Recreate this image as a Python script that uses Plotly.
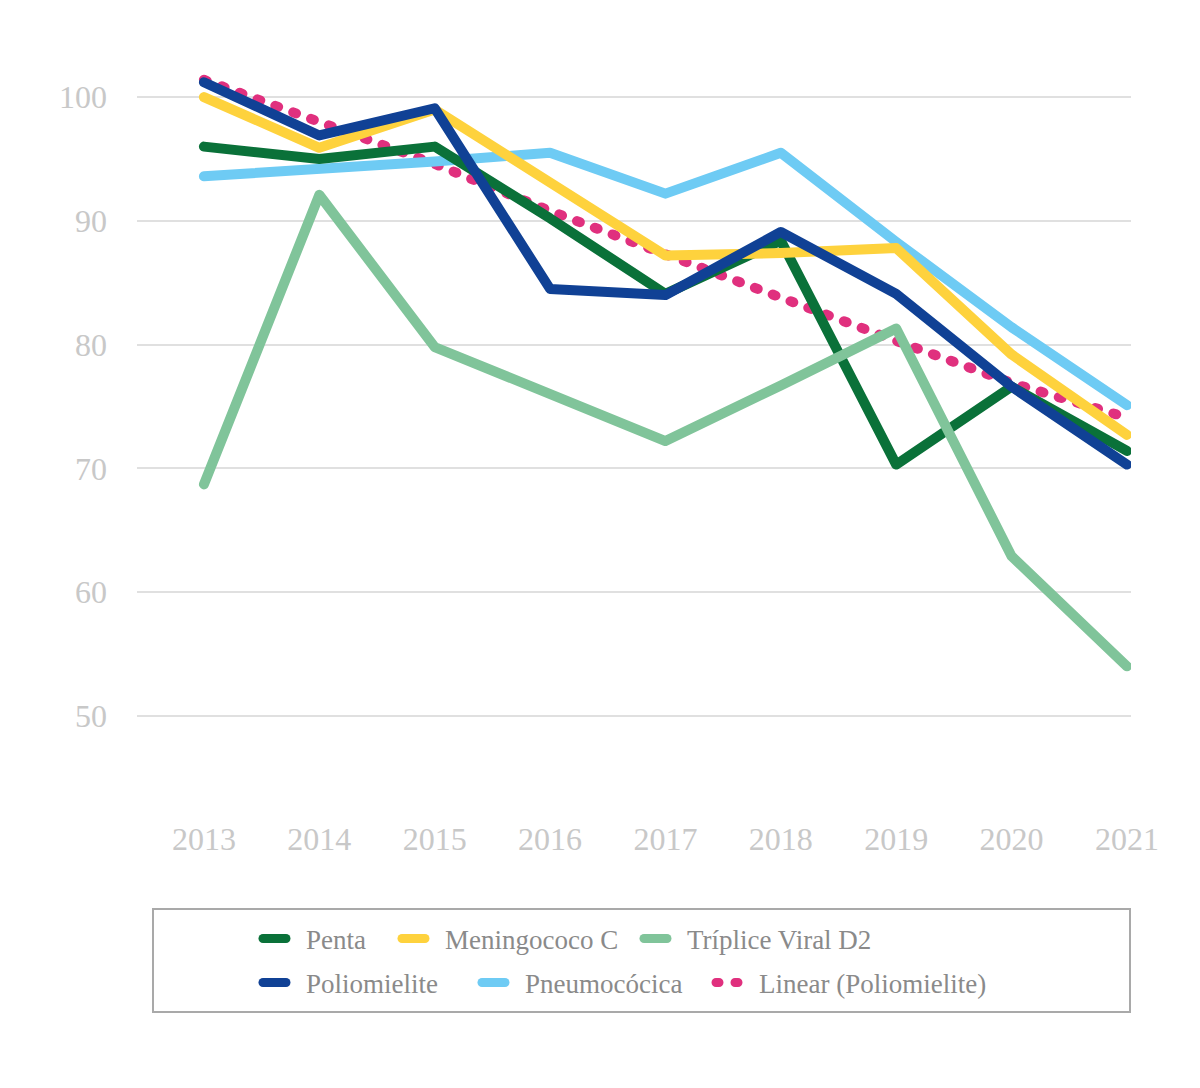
import plotly.graph_objects as go

FONT = "Liberation Serif, Times New Roman, serif"

years = [2013, 2014, 2015, 2016, 2017, 2018, 2019, 2020, 2021]

penta = [96.0, 95.0, 96.0, 90.2, 84.1, 88.4, 70.3, 76.6, 71.4]
meningococo_c = [100.0, 95.9, 99.0, 93.2, 87.2, 87.4, 87.8, 79.2, 72.7]
triplice_viral_d2 = [68.7, 92.1, 79.8, 76.1, 72.2, 76.7, 81.3, 62.9, 54.0]
poliomielite = [101.2, 96.9, 99.1, 84.5, 84.0, 89.1, 84.1, 76.6, 70.3]
pneumococica = [93.6, 94.1, 94.8, 95.5, 92.2, 95.5, 88.3, 81.4, 75.1]
linear_polio = [101.4, 97.9, 94.6, 90.8, 87.4, 83.8, 80.3, 76.9, 74.1]

y_ticks = [50, 60, 70, 80, 90, 100]

# drawing order (bottom -> top), with legend slot for each series
series = [
    ("Linear (Poliomielite)", linear_polio, "#e0307e", "3px,16px", "legend6"),
    ("Pneumocócica", pneumococica, "#6ecbf4", "solid", "legend5"),
    ("Penta", penta, "#0a7139", "solid", "legend"),
    ("Meningococo C", meningococo_c, "#fed23d", "solid", "legend2"),
    ("Tríplice Viral D2", triplice_viral_d2, "#80c49a", "solid", "legend3"),
    ("Poliomielite", poliomielite, "#104195", "solid", "legend4"),
]

fig = go.Figure()
for name, vals, color, dash, leg in series:
    fig.add_trace(go.Scatter(
        x=years,
        y=vals,
        mode="lines",
        name=name,
        legend=leg,
        line=dict(color=color, width=10, dash=dash),
        hoverinfo="x+y+name",
    ))

# the page adds an 8px body margin; layout below is in page pixels
PAGE = 8
L, R, T, B = 137 - PAGE, 1131 - PAGE, 60 - PAGE, 790 - PAGE
W, H = R - L, B - T


def px_x(px):
    return (px - PAGE - L) / W


def px_y(py):
    return (B - (py - PAGE)) / H


legend_font = dict(family=FONT, size=27, color="#8a8a8a")
# symbol start (page px) and row centre (page px) for each legend entry
legend_slots = {
    "legend": (258, 939),
    "legend2": (397, 939),
    "legend3": (639, 939),
    "legend4": (258, 983),
    "legend5": (477, 983),
    "legend6": (711, 983),
}
legends = {}
for key, (sx, sy) in legend_slots.items():
    legends[key] = dict(
        x=px_x(sx), y=px_y(sy), xanchor="left", yanchor="middle",
        orientation="h", font=legend_font, bgcolor="rgba(0,0,0,0)",
        borderwidth=0, itemwidth=38,
    )

fig.update_layout(
    width=1200,
    height=1088,
    paper_bgcolor="white",
    plot_bgcolor="white",
    margin=dict(l=L, r=1200 - R, t=T, b=1088 - B),
    font=dict(family=FONT, size=32, color="#c8c8c8"),
    showlegend=True,
    **legends,
)

# legend frame
fig.add_shape(
    type="rect", xref="paper", yref="paper",
    x0=px_x(153), x1=px_x(1130), y0=px_y(1012), y1=px_y(909),
    line=dict(color="#a9a9a9", width=2), fillcolor="rgba(0,0,0,0)",
)

fig.update_xaxes(
    range=[2012.42, 2021.035],
    tickvals=years,
    ticktext=[str(y) for y in years],
    showgrid=False, zeroline=False, showline=False,
    ticks="", ticklabelstandoff=27,
    tickfont=dict(family=FONT, size=32, color="#c8c8c8"),
)
fig.update_yaxes(
    range=[44.0, 103.0],
    tickvals=y_ticks,
    showgrid=True, gridcolor="#e0e0e0", gridwidth=2,
    zeroline=False, showline=False,
    ticks="", ticklabelstandoff=29,
    tickfont=dict(family=FONT, size=32, color="#c8c8c8"),
)

# round line ends like the original; shorter legend swatches with a gap before the text
round_caps = (
    "document.querySelectorAll('path.js-line').forEach(function(p){"
    "p.style.strokeLinecap='round';p.style.strokeLinejoin='round';});"
    "document.querySelectorAll('g.traces path.js-line').forEach(function(p){"
    "p.setAttribute('d','M5,0h23');p.style.strokeWidth='9px';});"
)
fig.write_html("out.html", post_script=round_caps)
